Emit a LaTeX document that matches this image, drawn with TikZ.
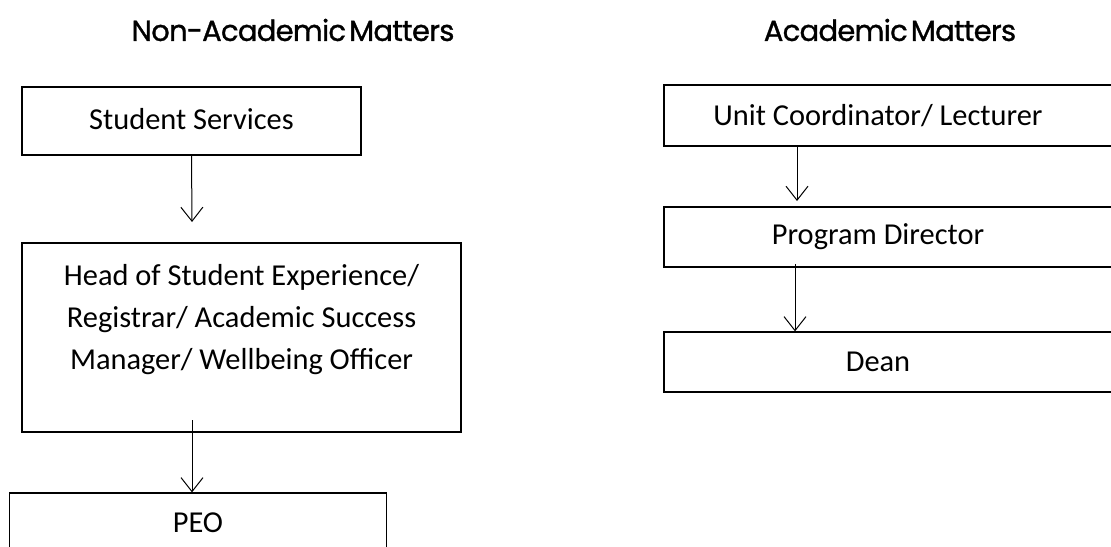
\documentclass[tikz,border=0pt]{standalone}
\usepackage{fontspec}
\setmainfont{Carlito}
\newfontfamily\headfont{Poppins}[LetterSpace=-2.5, WordSpace=0.45, FakeBold=1.1]
\usetikzlibrary{arrows.meta}

\begin{document}
\begin{tikzpicture}[x=0.5pt, y=-0.5pt,
  box/.style={draw, line width=0.6pt, inner sep=0pt, align=center,
    font=\fontsize{15.2}{21}\selectfont},
  heading/.style={font=\headfont\fontsize{14.5}{18}\selectfont},
  flow/.style={-{Straight Barb[length=7pt,width=11pt]}, line width=0.5pt}]
\clip (0, 0) rectangle (1111, 546);

% non-academic side
\node[heading] (nonacad) at (293, 30) {Non-Academic Matters};
\node[box, minimum width=169.5pt, minimum height=34pt] (services) at (191.5, 121) {\raisebox{2pt}{Student Services}};
\node[box, minimum width=219.5pt, minimum height=94.5pt] (head) at (241.5, 337.5)
  {Head of Student Experience/\\ Registrar/ Academic Success\\ Manager/ Wellbeing Officer\\ \mbox{}};
\node[box, minimum width=188.5pt, minimum height=30pt] (peo) at (198, 523) {PEO};

% academic side
\node[heading] (acad) at (890, 30) {Academic Matters};
\node[box, minimum width=226pt, minimum height=30.5pt] (unit) at (890, 115.5) {Unit Coordinator/ Lecturer\hspace{12pt}};
\node[box, minimum width=226pt, minimum height=30pt] (director) at (890, 237) {Program Director\hspace{12pt}};
\node[box, minimum width=226pt, minimum height=30pt] (dean) at (890, 362) {Dean\hspace{12pt}};

\coordinate (e1) at (192, 222);
\coordinate (s2) at (192, 420);
\coordinate (e3) at (797, 201);
\coordinate (s4) at (795, 264);

\draw[flow] (services.south) -- (e1);
\draw[flow] (s2) -- (s2 |- peo.north);
\draw[flow] (e3 |- unit.south) -- (e3);
\draw[flow] (s4) -- (s4 |- dean.north);
\end{tikzpicture}
\end{document}
